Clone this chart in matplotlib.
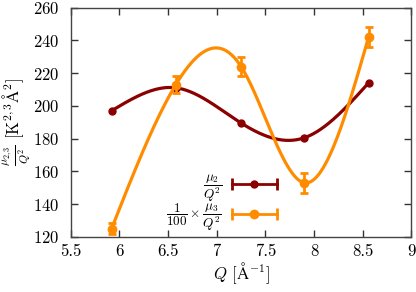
import numpy as np
import matplotlib
matplotlib.use('Agg')
import matplotlib.pyplot as plt
from matplotlib.lines import Line2D
from matplotlib.legend_handler import HandlerBase

plt.rcParams['font.family'] = 'serif'
plt.rcParams['font.serif'] = ['cmr10']
plt.rcParams['mathtext.fontset'] = 'cm'
plt.rcParams['axes.formatter.use_mathtext'] = True
plt.rcParams['font.size'] = 12

# data
q = [5.92, 6.58, 7.25, 7.9, 8.56]
mu2 = [197, 211, 189.5, 180.5, 214]
mu3 = [125, 213, 224, 153, 242]
mu3_err = [3.4, 5.3, 6, 6, 6]

xticks = [5.5, 6, 6.5, 7, 7.5, 8, 8.5, 9]
yticks = [120, 140, 160, 180, 200, 220, 240, 260]

c_mu2 = '#8b0000'
c_mu3 = '#ff8c00'


def natural_spline(x, y, n=300):
    # natural cubic spline through the points, for the smooth line
    x = np.asarray(x, float)
    y = np.asarray(y, float)
    k = len(x)
    h = np.diff(x)
    A = np.zeros((k, k))
    b = np.zeros(k)
    A[0, 0] = A[-1, -1] = 1
    for i in range(1, k - 1):
        A[i, i - 1] = h[i - 1]
        A[i, i] = 2 * (h[i - 1] + h[i])
        A[i, i + 1] = h[i]
        b[i] = 6 * ((y[i + 1] - y[i]) / h[i] - (y[i] - y[i - 1]) / h[i - 1])
    m = np.linalg.solve(A, b)
    xs = np.linspace(x[0], x[-1], n)
    idx = np.clip(np.searchsorted(x, xs) - 1, 0, k - 2)
    x0, x1 = x[idx], x[idx + 1]
    hh = x1 - x0
    t0 = x1 - xs
    t1 = xs - x0
    ys = (m[idx] * t0**3 / (6 * hh) + m[idx + 1] * t1**3 / (6 * hh)
          + (y[idx] / hh - m[idx] * hh / 6) * t0
          + (y[idx + 1] / hh - m[idx + 1] * hh / 6) * t1)
    return xs, ys


class HandlerXErr(HandlerBase):
    def create_artists(self, legend, orig_handle, xdescent, ydescent,
                       width, height, fontsize, trans):
        col = orig_handle.get_color()
        ms = orig_handle.get_markersize()
        y = height / 2 - ydescent
        x0, x1 = -xdescent, width - xdescent
        line = Line2D([x0, x1], [y, y], color=col, lw=2)
        caps = Line2D([x0, x1], [y, y], color=col, lw=0, marker='|',
                      markersize=8, markeredgewidth=2)
        dot = Line2D([(x0 + x1) / 2], [y], color=col, lw=0, marker='o',
                     markersize=ms)
        for a in (line, caps, dot):
            a.set_transform(trans)
        return [line, caps, dot]


fig = plt.figure(figsize=(4.16, 2.92), dpi=100)
ax = fig.add_axes([0.170, 0.189, 0.819, 0.785])

xs, ys = natural_spline(q, mu2)
ax.plot(xs, ys, color=c_mu2, lw=2.3)
ax.plot(q, mu2, 'o', color=c_mu2, ms=5)

xs, ys = natural_spline(q, mu3)
ax.plot(xs, ys, color=c_mu3, lw=2.3)
ax.errorbar(q, mu3, yerr=mu3_err, fmt='o', color=c_mu3, ms=6,
            elinewidth=2, capsize=3.2, capthick=2)

ax.set_xlim(5.5, 9)
ax.set_ylim(120, 260)
ax.set_xticks(xticks)
ax.set_xticklabels(['5.5', '6', '6.5', '7', '7.5', '8', '8.5', '9'])
ax.set_yticks(yticks)
ax.tick_params(direction='in', top=True, right=True, length=5,
               width=1, colors='#333333', labelcolor='black')
ax.tick_params(axis='y', pad=8)
ax.tick_params(axis='x', pad=5)
for s in ax.spines.values():
    s.set_color('#444444')
    s.set_linewidth(1)

ax.set_xlabel(r'$Q$ [$\mathrm{\AA}^{-1}$]', labelpad=1)
ax.set_ylabel(r'$\frac{\mu_{2,3}}{Q^2}$ [$\mathrm{K}^{2,3}\mathrm{\AA}^2$]',
              labelpad=0, fontsize=12)

h1 = Line2D([], [], color=c_mu2, marker='o', ms=5)
h2 = Line2D([], [], color=c_mu3, marker='o', ms=6)
ax.legend([h1, h2], [r'$\dfrac{\mu_2}{Q^2}$', r'$\dfrac{1}{100}\times\dfrac{\mu_3}{Q^2}$'],
          handler_map={Line2D: HandlerXErr()}, markerfirst=False,
          frameon=False, loc='lower right', bbox_to_anchor=(0.605, 0.015),
          handlelength=3.4, handletextpad=0.75, labelspacing=-0.15,
          borderpad=0.0, borderaxespad=0.0, fontsize=9.5)

fig.savefig('out.png', dpi=100)
